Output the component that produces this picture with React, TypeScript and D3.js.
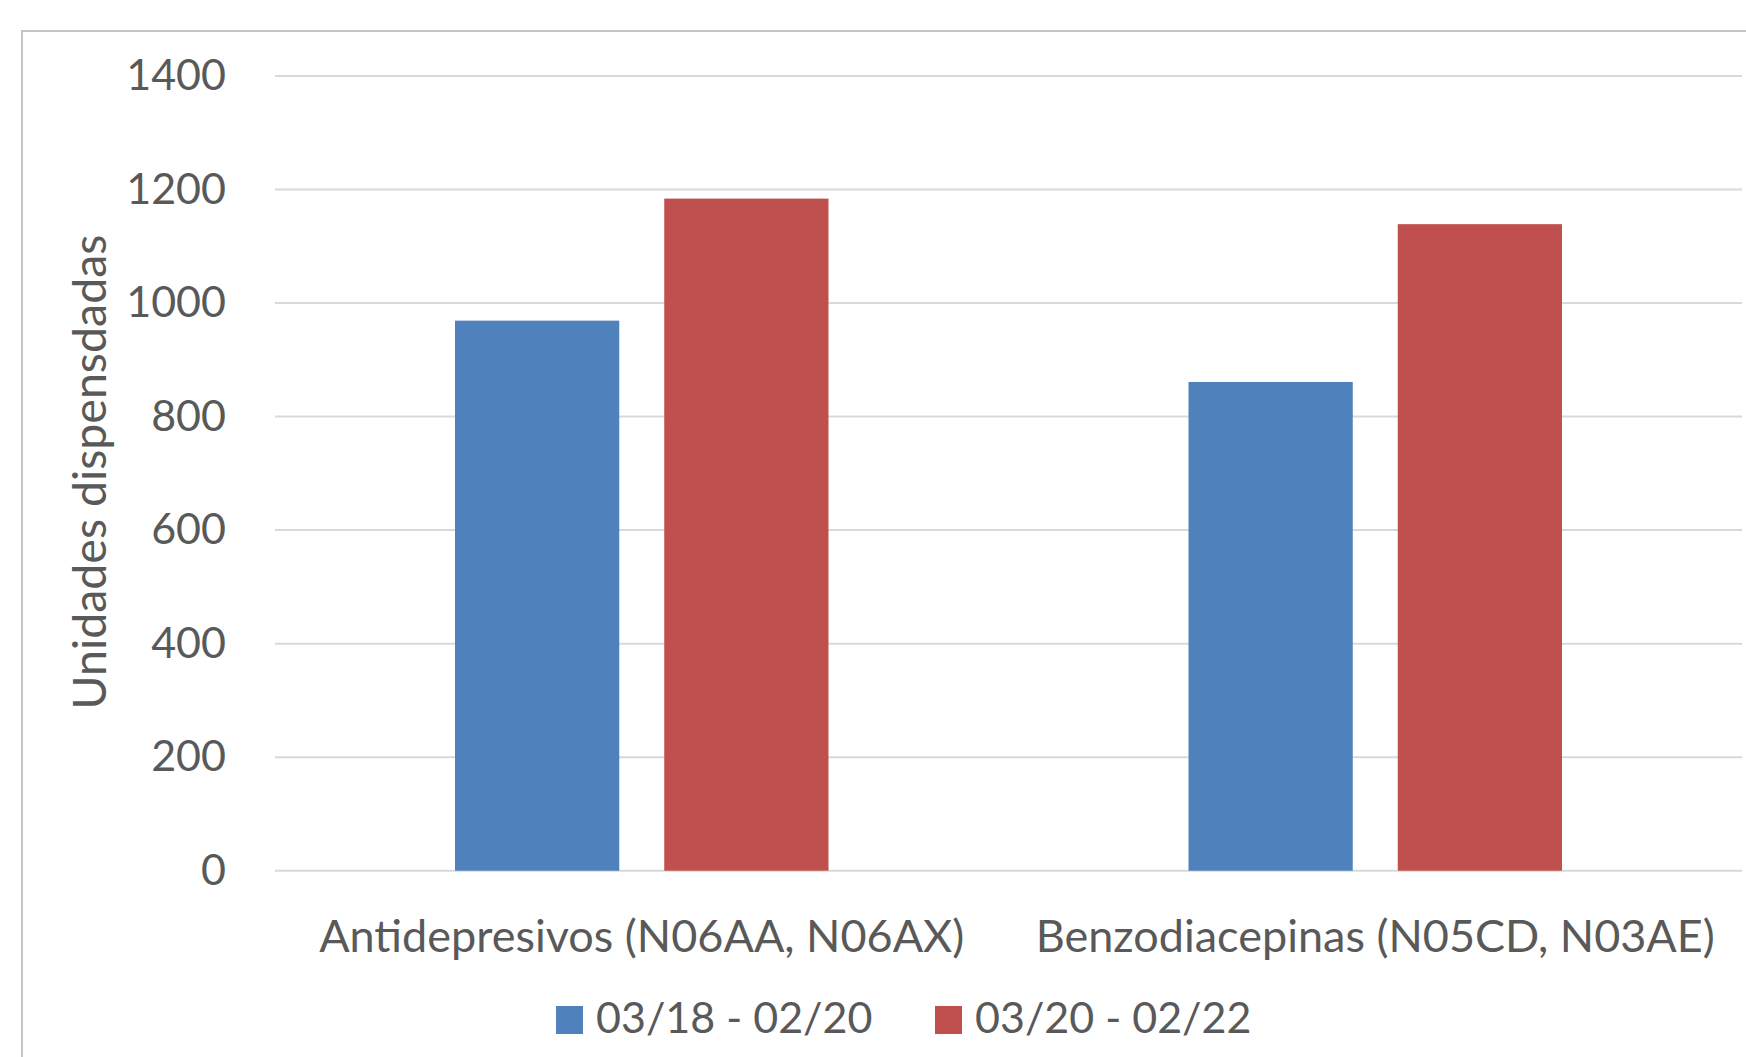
import React from "react";
import * as d3 from "d3";

const categories = ["Antidepresivos (N06AA, N06AX)", "Benzodiacepinas (N05CD, N03AE)"];
const seriesNames = ["03/18 - 02/20", "03/20 - 02/22"];
const seriesColors = ["#4F81BD", "#C0504D"];
const period1Values = [969, 861];
const period2Values = [1184, 1139];
const yTicks = [0, 200, 400, 600, 800, 1000, 1200, 1400];
const yTitle = "Unidades dispensdadas";

const W = 1746;
const H = 1057;
const plot = { left: 275, right: 1742, top: 76, bottom: 870.7 };
const FONT = "Lato, 'Open Sans', sans-serif";
const TEXT = "#595959";

export default function App() {
  const x = d3.scaleBand<string>().domain(categories).range([plot.left, plot.right]).paddingInner(0).paddingOuter(0);
  const groupPad = 180;
  const inner = d3
    .scaleBand<string>()
    .domain(seriesNames)
    .range([groupPad, x.bandwidth() - groupPad])
    .paddingInner(0.215)
    .paddingOuter(0);
  const y = d3.scaleLinear().domain([0, 1400]).range([plot.bottom, plot.top]);
  const values = [period1Values, period2Values];

  return (
    <>
      <style>{`body{margin:0}`}</style>
      <svg width={W} height={H} style={{ display: "block", background: "#fff" }}>
        {/* chart border */}
        <path d={`M22,${H} L22,31 L${W},31`} fill="none" stroke="#c4c4c4" strokeWidth={2} />
        {/* gridlines */}
        {yTicks.map((t) => (
          <line key={t} x1={plot.left} x2={plot.right} y1={y(t)} y2={y(t)} stroke="#d9d9d9" strokeWidth={2} />
        ))}
        {/* y tick labels */}
        {yTicks.map((t) => (
          <text key={"l" + t} x={226} y={y(t) + 14} textAnchor="end" fontFamily={FONT} fontSize={43} fill={TEXT}>
            {t}
          </text>
        ))}
        {/* bars */}
        {categories.map((c, ci) =>
          seriesNames.map((s, si) => (
            <rect
              key={c + s}
              x={(x(c) as number) + (inner(s) as number)}
              y={y(values[si][ci])}
              width={inner.bandwidth()}
              height={y(0) - y(values[si][ci])}
              fill={seriesColors[si]}
            />
          ))
        )}
        {/* category labels */}
        {categories.map((c) => (
          <text
            key={"c" + c}
            x={(x(c) as number) + x.bandwidth() / 2}
            y={952}
            textAnchor="middle"
            fontFamily={FONT}
            fontSize={45}
            fill={TEXT}
          >
            {c}
          </text>
        ))}
        {/* y title */}
        <text
          transform={`translate(106,472) rotate(-90)`}
          textAnchor="middle"
          fontFamily={FONT}
          fontSize={46.5}
          fill={TEXT}
        >
          {yTitle}
        </text>
        {/* legend */}
        {seriesNames.map((s, i) => {
          const lx = [556, 935][i];
          return (
            <g key={"lg" + s}>
              <rect x={lx} y={1006} width={27} height={28} fill={seriesColors[i]} />
              <text x={lx + 40} y={1033} fontFamily={FONT} fontSize={43} fill={TEXT}>
                {s}
              </text>
            </g>
          );
        })}
      </svg>
    </>
  );
}
